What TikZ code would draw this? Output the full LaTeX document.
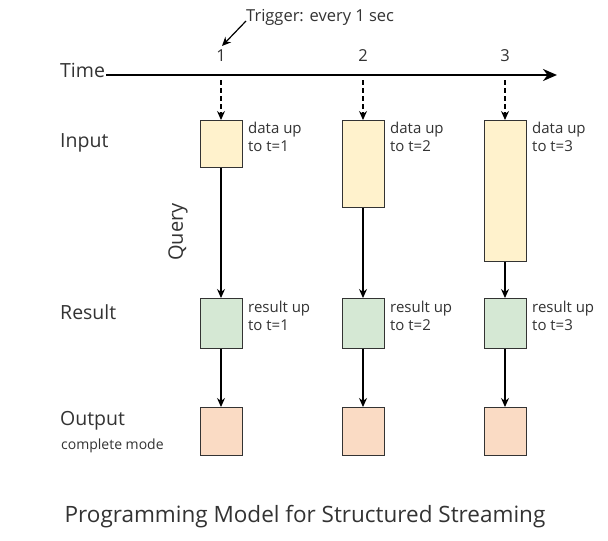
\documentclass[tikz,border=0pt]{standalone}
\usepackage{fontspec}
\setmainfont{Open Sans}
\usetikzlibrary{arrows.meta}
\definecolor{inp}{HTML}{FFF2CC}
\definecolor{res}{HTML}{D5E8D4}
\definecolor{outc}{HTML}{FADBC4}
\begin{document}
\begin{tikzpicture}[x=1pt,y=-1pt,
  box/.style={draw=black!80,line width=0.8pt,inner sep=0pt,minimum width=42pt},
  lab/.style={font=\fontsize{19.5}{22}\selectfont,text=black!80,anchor=west,inner sep=0pt},
  small/.style={font=\fontsize{15}{18}\selectfont,text=black!80,align=left,anchor=north west,inner sep=0pt},
  arr/.style={-{Stealth[length=9pt,width=8pt]},line width=1.2pt}]
\useasboundingbox (0,0) rectangle (608,541);
\fill[white] (0,0) rectangle (608,541);
\coordinate (ts) at (106,75);
\coordinate (te) at (557,75);
\draw[-{Stealth[length=14pt,width=12pt]},line width=2.6pt] (ts) -- (te);
\node[lab] (time) at (60,70) {Time};
\node[lab] (input) at (60,143) {Input};
\node[lab] (result) at (60,312) {Result};
\node[lab] (output) at (60,421) {Output};
\node[font=\fontsize{14}{17}\selectfont,text=black!80,anchor=west,inner sep=0pt] (cm) at (61,446) {complete mode};
\node[font=\fontsize{20}{22}\selectfont,text=black!80,rotate=90] (q) at (178,232) {Query};
\node[font=\fontsize{16.5}{19}\selectfont,text=black!80,anchor=west,inner sep=0pt] (trig) at (246,17) {Trigger: every 1 sec};
\coordinate (tp) at (222,46);
\draw[arr] (trig.west) ++(0,4) -- (tp);
\foreach \i/\x/\h in {1/221/47,2/363/87,3/505/141}{
  \node[font=\fontsize{16.5}{19}\selectfont,text=black!80] (n\i) at (\x,56) {\i};
  \coordinate (d\i) at (\x,80);
  \node[box,fill=inp,anchor=north,minimum height=\h pt] (in\i) at (\x,120) {};
  \node[box,fill=res,anchor=north,minimum height=50pt] (r\i) at (\x,298) {};
  \node[box,fill=outc,anchor=north,minimum height=48pt] (o\i) at (\x,407) {};
  \draw[arr,dash pattern=on 5pt off 3pt] (d\i) -- (in\i.north);
  \draw[arr] (in\i) -- (r\i);
  \draw[arr] (r\i) -- (o\i);
  \node[small] (dl\i) at (\x+27,122) {data up\\to t=\i};
  \node[small] (rl\i) at (\x+27,301) {result up\\to t=\i};
}
\node[font=\fontsize{22.5}{26}\selectfont,text=black!80] (cap) at (305,517) {Programming Model for Structured Streaming};
\end{tikzpicture}
\end{document}
